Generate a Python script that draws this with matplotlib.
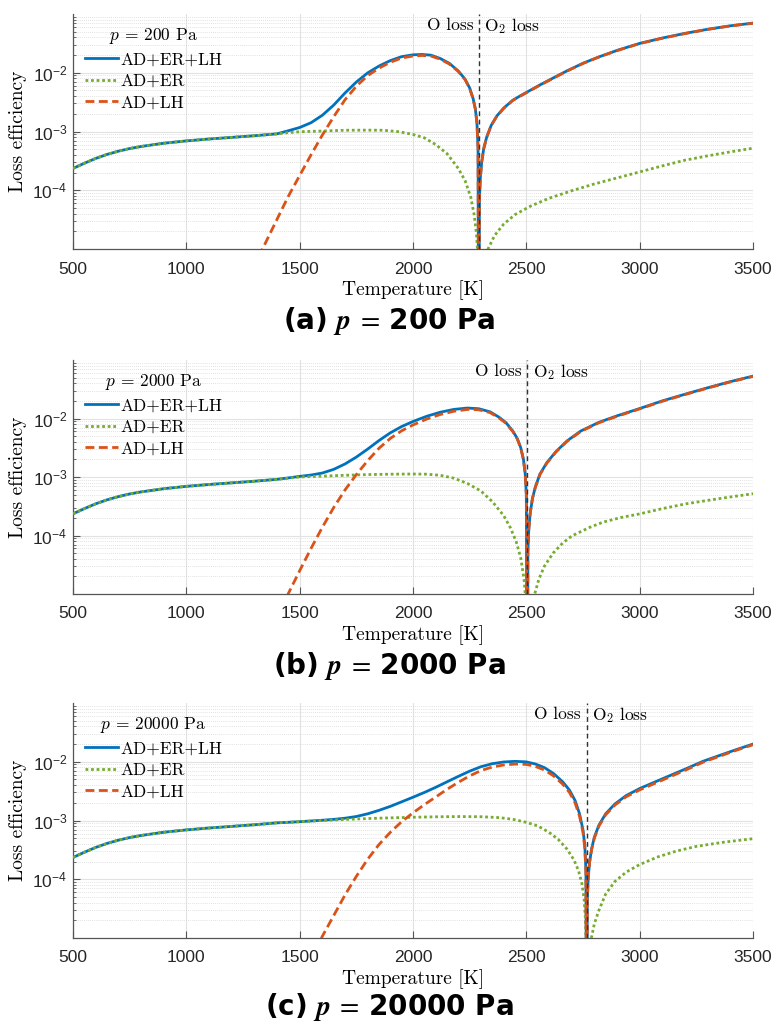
import numpy as np
import matplotlib
matplotlib.use("Agg")
import matplotlib.pyplot as plt
from matplotlib.ticker import LogLocator, NullFormatter, LogFormatterSciNotation
from matplotlib.font_manager import FontProperties

# ---------------- data ----------------
# shared low-temperature part (AD+ER dominates, identical in all panels)
T_low = [500, 550, 600, 650, 700, 750, 800, 900, 1000, 1100, 1200, 1300, 1400]
eff_low = [2.35e-4, 2.88e-4, 3.48e-4, 4.07e-4, 4.62e-4, 5.13e-4, 5.56e-4, 6.31e-4, 6.92e-4,
           7.45e-4, 7.94e-4, 8.47e-4, 9.12e-4]

# ---- panel (a) p = 200 Pa ----
T_a_tot = [1450, 1500, 1550, 1600, 1650, 1700, 1750, 1800, 1850, 1900, 1950, 2000, 2040, 2080, 2120,
           2160, 2200, 2230, 2250, 2265, 2275, 2282, 2287, 2290, 2293, 2297, 2303, 2312, 2325, 2345,
           2370, 2400, 2440, 2470, 2500, 2560, 2620, 2680, 2750, 2820, 2900, 3000, 3100, 3200, 3300,
           3400, 3500]
eff_a_tot = [1.03e-3, 1.17e-3, 1.41e-3, 1.89e-3, 2.81e-3, 4.52e-3, 6.95e-3, 9.95e-3, 1.3e-2, 1.61e-2,
             1.88e-2, 2.02e-2, 2.05e-2, 1.99e-2, 1.75e-2, 1.45e-2, 1.07e-2, 7.75e-3, 5.5e-3, 3.65e-3,
             2.43e-3, 1.42e-3, 5.3e-4, 1e-8, 6.9e-5, 1.6e-4, 3.0e-4, 5.1e-4, 8.0e-4, 1.27e-3, 1.84e-3,
             2.5e-3, 3.4e-3, 3.98e-3, 4.62e-3, 6.2e-3, 8.2e-3, 1.08e-2, 1.45e-2, 1.86e-2, 2.4e-2,
             3.16e-2, 3.9e-2, 4.68e-2, 5.5e-2, 6.3e-2, 7.0e-2]
T_a_er = [1450, 1500, 1600, 1700, 1800, 1870, 1940, 2000, 2050, 2100, 2150, 2200, 2230, 2255, 2270,
          2280, 2286, 2290, 2331, 2360, 2400, 2450, 2520, 2600, 2700, 2800, 2900, 3000, 3100, 3200,
          3300, 3400, 3500]
eff_a_er = [9.55e-4, 9.9e-4, 1.02e-3, 1.05e-3, 1.055e-3, 1.05e-3, 9.9e-4, 8.9e-4, 7.8e-4, 6.0e-4,
            4.2e-4, 2.35e-4, 1.45e-4, 7.6e-5, 3.8e-5, 1.8e-5, 8e-6, 1e-8, 1.0e-5, 1.7e-5, 2.65e-5,
            3.85e-5, 5.4e-5, 7.3e-5, 9.8e-5, 1.28e-4, 1.62e-4, 2.05e-4, 2.6e-4, 3.25e-4, 3.85e-4,
            4.5e-4, 5.2e-4]
T_a_lh = [1300, 1336, 1400, 1450, 1500, 1550, 1600, 1650, 1700, 1750, 1800, 1850, 1900, 1950, 2000,
          2040, 2080, 2120, 2160, 2200, 2230, 2250, 2265, 2275, 2282, 2287, 2290, 2293, 2297, 2303,
          2312, 2325, 2345, 2370, 2400, 2440, 2470, 2500, 2560, 2620, 2680, 2750, 2820, 2900, 3000,
          3100, 3200, 3300, 3400, 3500]
eff_a_lh = [4.5e-6, 1.0e-5, 3.2e-5, 7.9e-5, 1.78e-4, 4.0e-4, 8.7e-4, 1.78e-3, 3.47e-3, 5.9e-3, 8.9e-3,
            1.2e-2, 1.51e-2, 1.78e-2, 1.93e-2, 1.97e-2, 1.92e-2, 1.7e-2, 1.41e-2, 1.05e-2, 7.6e-3,
            5.4e-3, 3.6e-3, 2.4e-3, 1.4e-3, 5.2e-4, 1e-8, 6.9e-5, 1.6e-4, 3.0e-4, 5.1e-4, 8.0e-4,
            1.27e-3, 1.82e-3, 2.47e-3, 3.37e-3, 3.94e-3, 4.57e-3, 6.14e-3, 8.1e-3, 1.07e-2, 1.44e-2,
            1.85e-2, 2.38e-2, 3.14e-2, 3.87e-2, 4.65e-2, 5.46e-2, 6.26e-2, 6.95e-2]
T0_a = 2290

# ---- panel (b) p = 2000 Pa ----
T_b_tot = [1450, 1500, 1550, 1600, 1650, 1700, 1750, 1800, 1850, 1900, 1950, 2000, 2060, 2120, 2180,
           2240, 2290, 2340, 2380, 2410, 2440, 2460, 2475, 2487, 2495, 2500, 2504, 2507, 2511, 2517,
           2527, 2540, 2560, 2590, 2630, 2680, 2740, 2820, 2900, 3000, 3100, 3200, 3300, 3400, 3500]
eff_b_tot = [9.65e-4, 1.025e-3, 1.08e-3, 1.17e-3, 1.35e-3, 1.67e-3, 2.19e-3, 3.0e-3, 4.2e-3, 5.69e-3,
             7.29e-3, 8.89e-3, 1.09e-2, 1.28e-2, 1.43e-2, 1.51e-2, 1.47e-2, 1.3e-2, 1.05e-2, 8.5e-3,
             6.13e-3, 4.55e-3, 3.2e-3, 2.03e-3, 1.13e-3, 5.0e-4, 1e-8, 5.5e-5, 1.3e-4, 2.4e-4, 4.3e-4,
             6.8e-4, 1.12e-3, 1.75e-3, 2.7e-3, 4.15e-3, 6.1e-3, 8.6e-3, 1.11e-2, 1.48e-2, 2.0e-2,
             2.6e-2, 3.35e-2, 4.27e-2, 5.3e-2]
T_b_er = [1450, 1500, 1600, 1700, 1800, 1900, 2000, 2060, 2120, 2180, 2240, 2300, 2350, 2400, 2430,
          2455, 2475, 2490, 2497, 2504, 2537, 2555, 2580, 2618, 2660, 2700, 2780, 2840, 2920, 3000,
          3100, 3206, 3350, 3500]
eff_b_er = [9.55e-4, 1.0e-3, 1.035e-3, 1.07e-3, 1.1e-3, 1.117e-3, 1.125e-3, 1.117e-3, 1.07e-3,
            9.55e-4, 7.76e-4, 5.75e-4, 3.8e-4, 2.19e-4, 1.35e-4, 7.9e-5, 4.2e-5, 1.78e-5, 7.9e-6, 1e-8,
            1.0e-5, 1.78e-5, 3.0e-5, 5.0e-5, 7.4e-5, 9.8e-5, 1.38e-4, 1.7e-4, 2.04e-4, 2.34e-4,
            2.88e-4, 3.49e-4, 4.27e-4, 5.18e-4]
T_b_lh = [1420, 1449, 1500, 1550, 1600, 1650, 1700, 1750, 1800, 1850, 1900, 1950, 2000, 2060, 2120,
          2180, 2240, 2290, 2340, 2380, 2410, 2440, 2460, 2475, 2487, 2495, 2500, 2504, 2507, 2511,
          2517, 2527, 2540, 2560, 2590, 2630, 2680, 2740, 2820, 2900, 3000, 3100, 3200, 3300, 3400,
          3500]
eff_b_lh = [5.6e-6, 1.0e-5, 2.5e-5, 6.0e-5, 1.38e-4, 3.0e-4, 6.0e-4, 1.1e-3, 1.9e-3, 3.1e-3, 4.57e-3,
            6.17e-3, 7.76e-3, 9.77e-3, 1.17e-2, 1.33e-2, 1.43e-2, 1.41e-2, 1.26e-2, 1.02e-2, 8.3e-3,
            6.0e-3, 4.47e-3, 3.16e-3, 2.0e-3, 1.12e-3, 5.0e-4, 1e-8, 5.5e-5, 1.3e-4, 2.4e-4, 4.3e-4,
            6.75e-4, 1.1e-3, 1.72e-3, 2.66e-3, 4.08e-3, 6.0e-3, 8.45e-3, 1.09e-2, 1.46e-2, 1.97e-2,
            2.57e-2, 3.31e-2, 4.22e-2, 5.25e-2]
T0_b = 2504

# ---- panel (c) p = 20000 Pa ----
T_c_tot = [1450, 1500, 1600, 1650, 1700, 1750, 1800, 1850, 1900, 1950, 2000, 2050, 2100, 2150, 2200,
           2250, 2300, 2350, 2400, 2450, 2500, 2540, 2580, 2620, 2660, 2690, 2715, 2735, 2750, 2758,
           2763, 2766, 2769, 2773, 2779, 2788, 2800, 2820, 2850, 2890, 2940, 3000, 3070, 3140, 3210,
           3280, 3350, 3420, 3500]
eff_c_tot = [9.33e-4, 9.55e-4, 1.01e-3, 1.045e-3, 1.094e-3, 1.17e-3, 1.3e-3, 1.49e-3, 1.74e-3,
             2.08e-3, 2.49e-3, 3.0e-3, 3.67e-3, 4.55e-3, 5.64e-3, 6.92e-3, 8.24e-3, 9.27e-3, 9.91e-3,
             1.016e-2, 9.95e-3, 9.15e-3, 7.94e-3, 6.31e-3, 4.57e-3, 3.3e-3, 2.19e-3, 1.29e-3, 6.9e-4,
             3.74e-4, 1.38e-4, 1e-8, 4.5e-5, 1.05e-4, 1.95e-4, 3.3e-4, 5.2e-4, 8.3e-4, 1.3e-3, 1.9e-3,
             2.65e-3, 3.5e-3, 4.57e-3, 5.96e-3, 7.76e-3, 1.02e-2, 1.27e-2, 1.58e-2, 2.0e-2]
T_c_er = [1450, 1500, 1600, 1700, 1800, 1900, 2000, 2100, 2200, 2300, 2380, 2440, 2500, 2550, 2600,
          2640, 2680, 2710, 2730, 2745, 2755, 2761, 2764, 2766, 2787, 2800, 2820, 2850, 2890, 2940,
          3000, 3080, 3160, 3250, 3370, 3500]
eff_c_er = [9.33e-4, 9.55e-4, 1.0e-3, 1.04e-3, 1.08e-3, 1.11e-3, 1.135e-3, 1.156e-3, 1.167e-3,
            1.16e-3, 1.12e-3, 1.05e-3, 9.3e-4, 8.1e-4, 6.3e-4, 4.8e-4, 3.24e-4, 2.14e-4, 1.41e-4,
            8.5e-5, 4.5e-5, 2.0e-5, 7.9e-6, 1e-8, 1.0e-5, 1.74e-5, 2.95e-5, 5.6e-5, 9.1e-5, 1.32e-4,
            1.78e-4, 2.4e-4, 3.0e-4, 3.63e-4, 4.27e-4, 4.9e-4]
T_c_lh = [1570, 1600, 1650, 1700, 1750, 1800, 1850, 1900, 1950, 2000, 2050, 2100, 2150, 2200, 2250,
          2300, 2350, 2400, 2450, 2500, 2540, 2580, 2620, 2660, 2690, 2715, 2735, 2750, 2758, 2763,
          2766, 2769, 2773, 2779, 2788, 2800, 2820, 2850, 2890, 2940, 3000, 3070, 3140, 3210, 3280,
          3350, 3420, 3500]
eff_c_lh = [6.0e-6, 1.07e-5, 2.4e-5, 5.4e-5, 1.12e-4, 2.19e-4, 3.9e-4, 6.3e-4, 9.55e-4, 1.35e-3,
            1.86e-3, 2.51e-3, 3.39e-3, 4.47e-3, 5.75e-3, 7.08e-3, 8.13e-3, 8.81e-3, 9.12e-3, 9.02e-3,
            8.32e-3, 7.24e-3, 5.75e-3, 4.17e-3, 3.02e-3, 2.0e-3, 1.17e-3, 6.3e-4, 3.4e-4, 1.26e-4,
            1e-8, 4.5e-5, 1.05e-4, 1.95e-4, 3.2e-4, 5.0e-4, 8.0e-4, 1.25e-3, 1.82e-3, 2.53e-3,
            3.32e-3, 4.33e-3, 5.68e-3, 7.43e-3, 9.83e-3, 1.23e-2, 1.54e-2, 1.95e-2]
T0_c = 2766

pressures = ["200", "2000", "20000"]
panel_tags = ["(a)", "(b)", "(c)"]
series_labels = ["AD+ER+LH", "AD+ER", "AD+LH"]
x_ticks = [500, 1000, 1500, 2000, 2500, 3000, 3500]
y_ticks = [1e-4, 1e-3, 1e-2]

# ---------------- style ----------------
plt.rcParams['font.family'] = ['Liberation Sans', 'DejaVu Sans']
plt.rcParams['mathtext.fontset'] = 'custom'
plt.rcParams['mathtext.rm'] = 'Liberation Sans'
plt.rcParams['mathtext.it'] = 'Liberation Sans:italic'
plt.rcParams['mathtext.bf'] = 'Liberation Sans:bold'

C_BLUE = '#0072BD'
C_GREEN = '#77AC30'
C_ORANGE = '#D95319'
CM = 'cmr10'

W, H = 773, 1026
fig = plt.figure(figsize=(W / 100, H / 100), dpi=100)

# axes boxes in pixels: (left, top, right, bottom)
boxes = [(73, 14, 753, 249), (73, 360, 753, 594), (73, 703, 753, 938)]
title_x = [283, 273, 265]
title_y = [321, 666, 1007]

panels = [
    (T_a_tot, eff_a_tot, T_a_er, eff_a_er, T_a_lh, eff_a_lh, T0_a),
    (T_b_tot, eff_b_tot, T_b_er, eff_b_er, T_b_lh, eff_b_lh, T0_b),
    (T_c_tot, eff_c_tot, T_c_er, eff_c_er, T_c_lh, eff_c_lh, T0_c),
]

for i, (box, pan) in enumerate(zip(boxes, panels)):
    l, t, r, b = box
    ax = fig.add_axes([l / W, 1 - b / H, (r - l) / W, (b - t) / H])
    Tt, et, Te, ee, Tl, el, T0 = pan

    ax.plot(np.concatenate([T_low, Tt]), np.concatenate([eff_low, et]), color=C_BLUE, lw=2.0,
            label=series_labels[0], zorder=3)
    ax.plot(np.concatenate([T_low, Te]), np.concatenate([eff_low, ee]), color=C_GREEN, lw=2.0,
            ls=(0, (1, 1.0)), label=series_labels[1], zorder=4)
    ax.plot(Tl, el, color=C_ORANGE, lw=2.0, ls=(0, (3.2, 1.6)), label=series_labels[2], zorder=5)

    ax.set_yscale('log')
    ax.set_xlim(500, 3500)
    ax.set_ylim(1e-5, 1e-1)
    ax.set_xticks(x_ticks)
    ax.set_yticks(y_ticks)
    ax.yaxis.set_major_formatter(LogFormatterSciNotation())
    ax.yaxis.set_minor_locator(LogLocator(base=10, subs=np.arange(2, 10), numticks=100))
    ax.yaxis.set_minor_formatter(NullFormatter())

    ax.axvline(T0, color='#333333', lw=1.0, ls=(0, (3.5, 2.5)), zorder=6)

    ax.grid(which='major', color='#e2e2e2', lw=0.8, zorder=0)
    ax.grid(which='minor', axis='y', color='#d8d8d8', lw=0.6, ls=(0, (1, 1.5)), zorder=0)
    ax.set_axisbelow(True)

    for s in ['top', 'right']:
        ax.spines[s].set_visible(False)
    for s in ['left', 'bottom']:
        ax.spines[s].set_color('#555555')
        ax.spines[s].set_linewidth(0.9)

    ax.tick_params(axis='x', which='major', direction='in', length=5, width=0.8, color='#555555',
                   labelsize=12.5, labelcolor='#262626', pad=9)
    ax.tick_params(axis='y', which='major', direction='in', length=5, width=0.8, color='#555555',
                   labelsize=12.5, labelcolor='#262626', pad=4)
    ax.tick_params(axis='y', which='minor', direction='in', length=2.5, width=0.6, color='#555555')

    ax.set_xlabel('Temperature [K]', fontfamily=CM, fontsize=14, labelpad=3)
    ax.set_ylabel('Loss efficiency', fontfamily=CM, fontsize=14, labelpad=4)

    ax.annotate('O loss', xy=(T0, 0.95), xycoords=('data', 'axes fraction'), xytext=(-4, 0),
                textcoords='offset points', ha='right', va='center', fontfamily=CM, fontsize=12.5)
    txt = ax.annotate(r'$\mathrm{O}_2$ loss', xy=(T0, 0.95), xycoords=('data', 'axes fraction'),
                      xytext=(4, 0), textcoords='offset points', ha='left', va='center',
                      fontfamily=CM, fontsize=12.5)
    txt.set_math_fontfamily('cm')

    leg = ax.legend(loc='upper left', bbox_to_anchor=(0.012, 0.965), frameon=False,
                    prop=FontProperties(family=CM, size=12.5),
                    title=r'$p$ = ' + pressures[i] + ' Pa',
                    title_fontproperties=FontProperties(family=CM, size=12.5),
                    handlelength=1.9, handletextpad=0.15, labelspacing=0.36, borderaxespad=0,
                    borderpad=0.2)
    leg.get_title().set_math_fontfamily('cm')

    ttl = fig.text(title_x[i] / W, 1 - title_y[i] / H,
                   panel_tags[i] + r' $\mathbfit{p}\;=\;$' + pressures[i] + ' Pa',
                   fontfamily='DejaVu Sans', fontweight='bold', fontsize=20, ha='left',
                   va='center')
    ttl.set_math_fontfamily('stix')

fig.savefig('out.png', dpi=100)
